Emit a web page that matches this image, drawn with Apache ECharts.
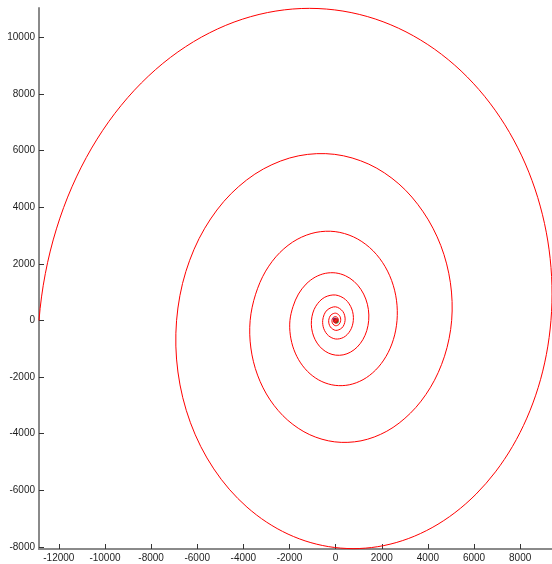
<!DOCTYPE html>
<html>
<head>
<meta charset="utf-8">
<style>
  html, body { margin: 0; padding: 0; background: #fff; }
  #chart { width: 552px; height: 564px; }
</style>
<script src="https://cdn.jsdelivr.net/npm/echarts@6/dist/echarts.min.js"></script>
</head>
<body>
<div id="chart"></div>
<script>
// Spiral traced turn by turn, outermost first, as [x, y] pairs (clockwise inward).
const turn1 = [
  [-12860, 0], [-12586, 1652], [-12104, 3233], [-11430, 4718], [-10578, 6084],
  [-9569, 7312], [-8423, 8383], [-7164, 9284], [-5815, 10003], [-4403, 10533],
  [-2952, 10869], [-1490, 11012], [-40, 10963], [1372, 10729], [2724, 10317],
  [3994, 9740], [5163, 9012], [6213, 8149], [7129, 7169], [7899, 6092],
  [8514, 4939], [8967, 3731], [9255, 2491], [9377, 1240], [9335, 0],
  [9135, -1208], [8783, -2364], [8289, -3450], [7667, -4449], [6928, -5347],
  [6090, -6130], [5169, -6789], [4183, -7315], [3150, -7703], [2090, -7949],
  [1020, -8053], [-40, -8017], [-1073, -7846], [-2062, -7545], [-2990, -7123],
  [-3845, -6590], [-4613, -5959], [-5282, -5242], [-5846, -4455], [-6295, -3612],
  [-6627, -2728], [-6837, -1821], [-6927, -907]
];
const turn2 = [
  [-6896, 0], [-6492, 1729], [-5675, 3254], [-4523, 4483], [-3128, 5349],
  [-1597, 5813], [-40, 5863], [1438, 5517], [2742, 4819], [3794, 3834],
  [4560, 2641], [4975, 1332], [5030, 0], [4720, -1264], [4100, -2379],
  [3238, -3278], [2218, -3912], [1099, -4251], [-40, -4287], [-1121, -4035],
  [-2075, -3524], [-2844, -2803], [-3385, -1931], [-3675, -974]
];
const turn3 = [
  [-3706, 0], [-3470, 924], [-3034, 1740], [-2417, 2397], [-1671, 2860],
  [-853, 3108], [-20, 3135], [771, 2950], [1468, 2577], [2030, 2050],
  [2426, 1412], [2638, 712], [2661, 0], [2503, -676], [2184, -1272],
  [1733, -1753], [1188, -2092], [589, -2273], [-20, -2293], [-598, -2158],
  [-1108, -1885], [-1519, -1499], [-1809, -1033], [-1964, -521]
];
const turn4 = [
  [-1981, 0], [-1845, 494], [-1612, 931], [-1282, 1282], [-883, 1530],
  [-445, 1662], [0, 1677], [423, 1578], [796, 1378], [1096, 1096],
  [1308, 755], [1421, 381], [1434, 0], [1349, -362], [1179, -680],
  [938, -938], [646, -1119], [326, -1216], [0, -1226], [-309, -1154],
  [-582, -1008], [-802, -802], [-957, -552], [-1040, -279]
];
const turn5 = [
  [-1049, 0], [-862, 498], [-472, 818], [0, 897], [426, 737],
  [700, 404], [767, 0], [630, -364], [345, -598], [0, -656],
  [-311, -539], [-512, -295]
];
const turn6 = [
  [-561, 0], [-367, 367], [0, 480], [314, 314], [410, 0],
  [268, -268], [0, -351], [-229, -229]
];
const turn7 = [
  [-300, 0], [-196, 196], [0, 256], [168, 168], [219, 0],
  [143, -143], [0, -187], [-123, -123]
];
const turn8 = [
  [-160, 0], [-105, 105], [0, 137], [90, 90], [117, 0],
  [77, -77], [0, -100], [-66, -66]
];
const turn9 = [
  [-86, 0], [0, 73], [63, 0], [0, -54], [-46, 0], [0, 39]
];
const centerRed = [[0, 0]];
const centerGreen = [[70, -60]];
const centerBlue = [[-60, 50]];

const xTicks = [-12000, -10000, -8000, -6000, -4000, -2000, 0, 2000, 4000, 6000, 8000];
const yTicks = [-8000, -6000, -4000, -2000, 0, 2000, 4000, 6000, 8000, 10000];

const xRange = [-12860, 9380];
const yRange = [-8070, 11030];

const spiral = [].concat(turn1, turn2, turn3, turn4, turn5, turn6, turn7, turn8, turn9);

const labelStyle = {
  fontFamily: 'Liberation Sans, Arial, sans-serif',
  fontSize: 10,
  color: '#1e1e1e',
  formatter: (v) => String(v)
};

// Smooth curve through pixel points: cubic segments with Bessel tangents,
// which stay continuous where the point spacing changes.
function curveSegments(pts, style) {
  const n = pts.length;
  const d = [];
  for (let i = 0; i < n - 1; i++) {
    d.push(Math.hypot(pts[i + 1][0] - pts[i][0], pts[i + 1][1] - pts[i][1]) || 1e-6);
  }
  const tan = new Array(n);
  for (let i = 1; i < n - 1; i++) {
    const d0 = d[i - 1], d1 = d[i];
    const ax = (pts[i][0] - pts[i - 1][0]) / d0, ay = (pts[i][1] - pts[i - 1][1]) / d0;
    const bx = (pts[i + 1][0] - pts[i][0]) / d1, by = (pts[i + 1][1] - pts[i][1]) / d1;
    tan[i] = [(ax * d1 + bx * d0) / (d0 + d1), (ay * d1 + by * d0) / (d0 + d1)];
  }
  tan[0] = [
    2 * (pts[1][0] - pts[0][0]) / d[0] - tan[1][0],
    2 * (pts[1][1] - pts[0][1]) / d[0] - tan[1][1]
  ];
  tan[n - 1] = [
    2 * (pts[n - 1][0] - pts[n - 2][0]) / d[n - 2] - tan[n - 2][0],
    2 * (pts[n - 1][1] - pts[n - 2][1]) / d[n - 2] - tan[n - 2][1]
  ];
  const children = [];
  for (let i = 0; i < n - 1; i++) {
    const h = d[i] / 3;
    children.push({
      type: 'bezierCurve',
      silent: true,
      shape: {
        x1: pts[i][0], y1: pts[i][1],
        cpx1: pts[i][0] + tan[i][0] * h, cpy1: pts[i][1] + tan[i][1] * h,
        cpx2: pts[i + 1][0] - tan[i + 1][0] * h, cpy2: pts[i + 1][1] - tan[i + 1][1] * h,
        x2: pts[i + 1][0], y2: pts[i + 1][1]
      },
      style: style
    });
  }
  return children;
}

// One continuous curve through all traced points, mapped through the axes.
function renderSpiral(params, api) {
  if (params.dataIndex !== 0) return null;
  const points = spiral.map((p) => api.coord(p));
  return {
    type: 'group',
    children: curveSegments(points, { stroke: '#ff0000', lineWidth: 1, fill: null })
  };
}

const chart = echarts.init(document.getElementById('chart'), null, { renderer: 'canvas' });
chart.setOption({
  animation: false,
  backgroundColor: '#ffffff',
  grid: { left: 39, right: 0, top: 8, bottom: 15, containLabel: false },
  xAxis: {
    type: 'value',
    min: xRange[0],
    max: xRange[1],
    axisLine: { show: true, onZero: false, lineStyle: { color: '#8a8a8a', width: 2 } },
    axisTick: { show: true, inside: true, length: 5, customValues: xTicks, lineStyle: { color: '#333333', width: 1 } },
    axisLabel: Object.assign({ margin: 4, customValues: xTicks }, labelStyle),
    splitLine: { show: false }
  },
  yAxis: {
    type: 'value',
    min: yRange[0],
    max: yRange[1],
    axisLine: { show: true, onZero: false, lineStyle: { color: '#8a8a8a', width: 2 } },
    axisTick: { show: true, inside: true, length: 5, customValues: yTicks, lineStyle: { color: '#333333', width: 1 } },
    axisLabel: Object.assign({ margin: 4, customValues: yTicks }, labelStyle),
    splitLine: { show: false }
  },
  series: [
    {
      type: 'custom',
      data: spiral,
      encode: { x: 0, y: 1 },
      renderItem: renderSpiral,
      clip: false,
      silent: true
    },
    {
      type: 'scatter',
      data: centerGreen,
      symbolSize: 3,
      itemStyle: { color: '#22aa44' },
      silent: true
    },
    {
      type: 'scatter',
      data: centerBlue,
      symbolSize: 3,
      itemStyle: { color: '#2244cc' },
      silent: true
    },
    {
      type: 'scatter',
      data: centerRed,
      symbolSize: 5,
      itemStyle: { color: '#ee0000', borderColor: '#662222', borderWidth: 0.5 },
      silent: true
    }
  ]
});
</script>
</body>
</html>
